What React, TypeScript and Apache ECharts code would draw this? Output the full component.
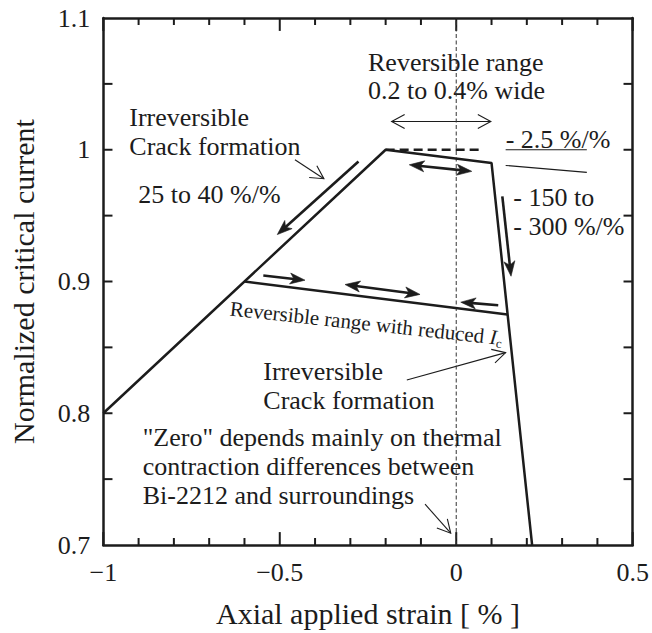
import React, { useEffect, useRef } from 'react';
import * as echarts from 'echarts';

const FONT = 'Liberation Serif';
const INK = '#1c1c1c';

// Axis ranges
const X_MIN = -1;
const X_MAX = 0.5;
const Y_MIN = 0.7;
const Y_MAX = 1.1;

// Tick positions (drawn inward on all four sides of the frame)
const xMajorTicks = [-1, -0.5, 0, 0.5];
const xMinorTicks = [-0.9, -0.8, -0.7, -0.6, -0.4, -0.3, -0.2, -0.1, 0.1, 0.2, 0.3, 0.4];
const yTicks = [0.75, 0.8, 0.85, 0.9, 0.95, 1.0, 1.05];

// Main Ic(strain) curve
const mainStrain = [-1, -0.2, 0.1, 0.215];
const mainIc = [0.8, 1.0, 0.99, 0.7];
// Reduced-Ic reversible branch
const reducedStrain = [-0.6, 0.145];
const reducedIc = [0.9, 0.875];
// Dashed plateau reference
const plateauStrain = [-0.2, 0.077];
const plateauIc = [1.0, 1.0];
// Zero-strain guide
const zeroStrain = [0, 0];
const zeroIc = [0.7, 1.1];

// arrows: [x1, y1, x2, y2, headAtStart, headAtEnd]
const thickArrows = [
  [-0.277, 0.9911, -0.507, 0.9356, 0, 1],
  [-0.133, 0.9886, 0.044, 0.9836, 1, 1],
  [0.1306, 0.9646, 0.1553, 0.904, 0, 1],
  [-0.5466, 0.9045, -0.4285, 0.901, 0, 1],
  [-0.315, 0.8977, -0.1026, 0.8902, 1, 1],
  [0.119, 0.882, 0.0128, 0.8843, 0, 1],
];
const thinArrows = [
  [-0.183, 1.0214, 0.098, 1.0214, 1, 1],
  [-0.457, 0.9924, -0.375, 0.978, 0, 1],
  [-0.14, 0.8252, 0.14, 0.846, 0, 1],
  [-0.0884, 0.731, -0.0156, 0.709, 0, 1],
  [0.14, 1.0, 0.37, 1.0, 0, 0],
  [0.14, 0.9881, 0.37, 0.9828, 0, 0],
];

const xLabelFmt = (v: number) => String(+v.toFixed(2)).replace('-', '\u2212');
const yLabelFmt = (v: number) => String(+v.toFixed(2));

function pairs(xs: number[], ys: number[]) {
  return xs.map((x, i) => [x, ys[i]]);
}

// tick segments [x1, y1, x2, y2] built from tick values and the axis bounds
const tickItems: number[][] = [];
xMajorTicks.forEach((v) => {
  tickItems.push([v, Y_MIN, v, Y_MIN + 0.0098]);
  tickItems.push([v, Y_MAX, v, Y_MAX - 0.0098]);
});
xMinorTicks.forEach((v) => {
  tickItems.push([v, Y_MIN, v, Y_MIN + 0.0053]);
  tickItems.push([v, Y_MAX, v, Y_MAX - 0.0053]);
});
yTicks.forEach((v) => {
  tickItems.push([X_MIN, v, X_MIN + 0.026, v]);
  tickItems.push([X_MAX, v, X_MAX - 0.026, v]);
});

function tickRenderer(_p: any, api: any) {
  const a = api.coord([api.value(0), api.value(1)]);
  const b = api.coord([api.value(2), api.value(3)]);
  return {
    type: 'line',
    shape: { x1: a[0], y1: a[1], x2: b[0], y2: b[1] },
    style: { stroke: INK, lineWidth: 2 },
  };
}

function arrowRenderer(opts: { width: number; headLen: number; headHalf: number; filled: boolean }) {
  return (_params: any, api: any) => {
    const p1 = api.coord([api.value(0), api.value(1)]);
    const p2 = api.coord([api.value(2), api.value(3)]);
    const hs = api.value(4);
    const he = api.value(5);
    const dx = p2[0] - p1[0];
    const dy = p2[1] - p1[1];
    const L = Math.hypot(dx, dy) || 1;
    const ux = dx / L;
    const uy = dy / L;
    const inset = opts.filled ? opts.headLen * 0.6 : 0;
    const a = hs ? [p1[0] + ux * inset, p1[1] + uy * inset] : p1;
    const b = he ? [p2[0] - ux * inset, p2[1] - uy * inset] : p2;
    const children: any[] = [
      {
        type: 'line',
        shape: { x1: a[0], y1: a[1], x2: b[0], y2: b[1] },
        style: { stroke: INK, lineWidth: opts.width, fill: null },
      },
    ];
    const head = (tip: number[], dirx: number, diry: number) => {
      const bx = tip[0] - dirx * opts.headLen;
      const by = tip[1] - diry * opts.headLen;
      const px = -diry * opts.headHalf;
      const py = dirx * opts.headHalf;
      if (opts.filled) {
        const nx = tip[0] - dirx * opts.headLen * 0.74;
        const ny = tip[1] - diry * opts.headLen * 0.74;
        return {
          type: 'polygon',
          shape: { points: [tip, [bx + px, by + py], [nx, ny], [bx - px, by - py]] },
          style: { fill: INK, stroke: INK, lineWidth: 0.6 },
        };
      }
      return {
        type: 'polyline',
        shape: { points: [[bx + px, by + py], tip, [bx - px, by - py]] },
        style: { stroke: INK, lineWidth: opts.width, fill: null },
      };
    };
    if (he) children.push(head(p2, ux, uy));
    if (hs) children.push(head(p1, -ux, -uy));
    return { type: 'group', children };
  };
}

function txt(x: number, y: number, text: string, size = 26) {
  return {
    type: 'text',
    x,
    y,
    silent: true,
    style: {
      text,
      fill: INK,
      fontSize: size,
      fontFamily: FONT,
      align: 'left',
      verticalAlign: 'middle',
    },
  };
}

export default function App() {
  const ref = useRef<HTMLDivElement>(null);
  useEffect(() => {
    if (!ref.current) return;
    const chart = echarts.init(ref.current, undefined, { renderer: 'svg' });
    const mkX = () => ({
      type: 'value',
      min: X_MIN,
      max: X_MAX,
      interval: 0.5,
      axisLine: { show: true, onZero: false, lineStyle: { color: INK, width: 2.5 } },
      axisTick: { show: false },
      splitLine: { show: false },
    });
    const mkY = () => ({
      type: 'value',
      min: Y_MIN,
      max: Y_MAX,
      interval: 0.1,
      axisLine: { show: true, onZero: false, lineStyle: { color: INK, width: 2.5 } },
      axisTick: { show: false },
      splitLine: { show: false },
    });
    chart.setOption({
      animation: false,
      backgroundColor: '#ffffff',
      grid: { left: 103.3, right: 19.3, top: 18, bottom: 86.5 },
      xAxis: [
        {
          ...mkX(),
          position: 'bottom',
          axisLabel: { show: true, fontSize: 26, fontFamily: FONT, color: INK, margin: 14, formatter: xLabelFmt },
          name: 'Axial applied strain [ % ]',
          nameLocation: 'middle',
          nameGap: 53,
          nameTextStyle: { fontSize: 30, fontFamily: FONT, color: INK },
        },
        { ...mkX(), position: 'top', axisLabel: { show: false } },
      ],
      yAxis: [
        {
          ...mkY(),
          position: 'left',
          axisLabel: { show: true, fontSize: 26, fontFamily: FONT, color: INK, margin: 13, formatter: yLabelFmt },
          name: 'Normalized critical current',
          nameLocation: 'middle',
          nameGap: 65,
          nameTextStyle: { fontSize: 30, fontFamily: FONT, color: INK },
        },
        { ...mkY(), position: 'right', axisLabel: { show: false } },
      ],
      series: [
        {
          type: 'line',
          data: pairs(zeroStrain, zeroIc),
          symbol: 'none',
          silent: true,
          lineStyle: { color: '#333', width: 1, type: [4, 2.5] },
        },
        {
          type: 'line',
          data: pairs(mainStrain, mainIc),
          symbol: 'none',
          silent: true,
          lineStyle: { color: INK, width: 2.5 },
        },
        {
          type: 'line',
          data: pairs(reducedStrain, reducedIc),
          symbol: 'none',
          silent: true,
          lineStyle: { color: INK, width: 2.5 },
        },
        {
          type: 'line',
          data: pairs(plateauStrain, plateauIc),
          symbol: 'none',
          silent: true,
          lineStyle: { color: INK, width: 2.5, type: [9, 5] },
        },
        {
          type: 'custom',
          clip: false,
          silent: true,
          data: tickItems,
          renderItem: tickRenderer,
        },
        {
          type: 'custom',
          silent: true,
          clip: false,
          data: thickArrows,
          renderItem: arrowRenderer({ width: 2.6, headLen: 15, headHalf: 5.5, filled: true }),
        },
        {
          type: 'custom',
          silent: true,
          clip: false,
          data: thinArrows,
          renderItem: arrowRenderer({ width: 1.1, headLen: 13, headHalf: 7, filled: false }),
        },
      ],
      graphic: [
        txt(368, 62.7, 'Reversible range'),
        txt(368, 90.7, '0.2 to 0.4% wide'),
        txt(129.3, 117.3, 'Irreversible'),
        txt(129.3, 146.7, 'Crack formation'),
        txt(138.3, 194, '25 to 40 %/%'),
        txt(505.7, 139.3, '- 2.5 %/%'),
        txt(513.3, 197.3, '- 150 to'),
        txt(513.3, 226, '- 300 %/%'),
        txt(263.3, 371.7, 'Irreversible'),
        txt(263.3, 400.7, 'Crack formation'),
        txt(142.7, 437.3, '"Zero" depends mainly on thermal'),
        txt(142.7, 466.7, 'contraction differences between'),
        txt(142.7, 495, 'Bi-2212 and surroundings'),
        {
          type: 'text',
          x: 230,
          y: 308.5,
          rotation: -0.108,
          silent: true,
          style: {
            text: '{n|Reversible range with reduced }{i|I}{s|c}',
            fill: INK,
            fontSize: 21,
            fontFamily: FONT,
            align: 'left',
            verticalAlign: 'middle',
            rich: {
              n: { fontSize: 21, fontFamily: FONT, fill: INK, lineHeight: 24 },
              i: { fontSize: 21, fontFamily: FONT, fill: INK, fontStyle: 'italic', lineHeight: 24 },
              s: { fontSize: 13, fontFamily: FONT, fill: INK, lineHeight: 12, verticalAlign: 'bottom' },
            },
          },
        },
      ],
    });
    return () => chart.dispose();
  }, []);
  return (
    <div
      ref={ref}
      style={{ position: 'fixed', left: 0, top: 0, width: 652, height: 633, background: '#fff' }}
    />
  );
}
